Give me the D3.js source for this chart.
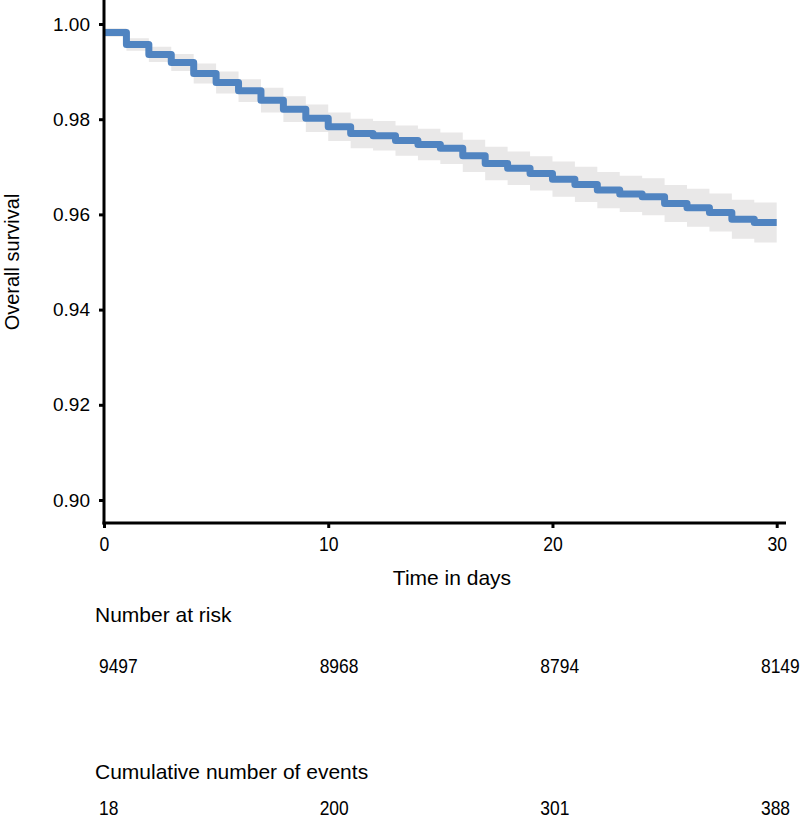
<!DOCTYPE html>
<html><head><meta charset="utf-8">
<script src="https://cdn.jsdelivr.net/npm/d3@7"></script>
<style>body{margin:0;background:#fff} svg{display:block}</style>
</head><body>
<svg id="c" width="800" height="819"></svg>
<script>
// ---- data ----
const times = [0,1,2,3,4,5,6,7,8,9,10,11,12,13,14,15,16,17,18,19,20,21,22,23,24,25,26,27,28,29,30];
const survival = [0.9982,0.9957,0.9936,0.9919,0.9896,0.9877,0.9860,0.9840,0.9821,0.9802,
                  0.9784,0.9770,0.9765,0.9755,0.9747,0.9739,0.9723,0.9707,0.9697,0.9686,
                  0.9674,0.9663,0.9651,0.9643,0.9637,0.9623,0.9614,0.9604,0.9590,0.9583,0.9583];
const lower = [0.9973,0.9944,0.9920,0.9901,0.9875,0.9854,0.9836,0.9814,0.9794,0.9773,
               0.9754,0.9739,0.9734,0.9723,0.9714,0.9706,0.9689,0.9672,0.9662,0.9650,
               0.9637,0.9626,0.9613,0.9605,0.9598,0.9584,0.9574,0.9564,0.9549,0.9541,0.9541];
const upper = [0.9991,0.9970,0.9952,0.9937,0.9917,0.9900,0.9884,0.9866,0.9848,0.9831,
               0.9814,0.9801,0.9796,0.9787,0.9780,0.9772,0.9757,0.9742,0.9732,0.9722,
               0.9711,0.9700,0.9689,0.9681,0.9676,0.9662,0.9654,0.9644,0.9631,0.9625,0.9625];
const yTicks = [0.90,0.92,0.94,0.96,0.98,1.00];
const xTicks = [0,10,20,30];
const tableTimes = [0,10,20,30];
const atRisk = [9497,8968,8794,8149];
const cumEvents = [18,200,301,388];

// ---- drawing ----
const svg = d3.select("#c");
const FONT = "Liberation Sans, Arial, Helvetica, sans-serif";
const x = d3.scaleLinear().domain([0,30]).range([104,776.7]);
const y = d3.scaleLinear().domain([0.90,1.00]).range([500,24]);
const xTable = d3.scaleLinear().domain([0,30]).range([99,761]);
const pts = times.map((t,i)=>({t, s:survival[i], lo:lower[i], hi:upper[i]}));

// CI band
svg.append("path").datum(pts)
  .attr("fill","#e9e8e8")
  .attr("d", d3.area().curve(d3.curveStepAfter).x(d=>x(d.t)).y0(d=>y(d.lo)).y1(d=>y(d.hi)));

// survival line
svg.append("path").datum(pts)
  .attr("fill","none").attr("stroke","#5084c1").attr("stroke-width",7)
  .attr("stroke-linejoin","round")
  .attr("d", d3.line().curve(d3.curveStepAfter).x(d=>x(d.t)).y(d=>y(d.s)));

// axes
const yAxis = svg.append("g").attr("transform","translate(104,0)")
  .call(d3.axisLeft(y).tickValues(yTicks).tickFormat(d3.format(".2f")).tickSize(5).tickPadding(9).tickSizeOuter(0));
const xAxis = svg.append("g").attr("transform","translate(0,523)")
  .call(d3.axisBottom(x).tickValues(xTicks).tickFormat(d3.format("d")).tickSize(5).tickPadding(8).tickSizeOuter(0));
[yAxis,xAxis].forEach(g=>{
  g.select(".domain").remove();
  g.selectAll(".tick line").attr("stroke","#000").attr("stroke-width",3);
});
yAxis.selectAll(".tick text").attr("font-family",FONT).attr("font-size",19).attr("fill","#000");
xAxis.selectAll(".tick text").attr("font-family",FONT).attr("font-size",20).attr("fill","#000")
  .attr("y",null).attr("dy",null)
  .attr("transform","translate(0,28) scale(0.88,1)");

svg.append("line").attr("x1",104).attr("x2",104).attr("y1",0).attr("y2",524.5)
  .attr("stroke","#000").attr("stroke-width",3);
svg.append("line").attr("x1",102.5).attr("x2",786).attr("y1",523).attr("y2",523)
  .attr("stroke","#000").attr("stroke-width",3);

// titles
svg.append("text").attr("transform","translate(19,262) rotate(-90)")
  .attr("text-anchor","middle").attr("font-family",FONT)
  .attr("font-size",20).text("Overall survival");
svg.append("text").attr("x",452).attr("y",585).attr("text-anchor","middle")
  .attr("font-family",FONT).attr("font-size",21)
  .text("Time in days");

// risk table
svg.append("text").attr("x",95).attr("y",622).attr("font-family",FONT).attr("font-size",21).text("Number at risk");
svg.selectAll("text.risk").data(tableTimes).join("text").attr("class","risk")
  .attr("transform",d=>`translate(${xTable(d)},673) scale(0.83,1)`)
  .attr("font-family",FONT).attr("font-size",21)
  .text((d,i)=>atRisk[i]);
svg.append("text").attr("x",95).attr("y",779).attr("font-family",FONT).attr("font-size",21).text("Cumulative number of events");
svg.selectAll("text.ev").data(tableTimes).join("text").attr("class","ev")
  .attr("transform",d=>`translate(${xTable(d)},815) scale(0.83,1)`)
  .attr("font-family",FONT).attr("font-size",21)
  .text((d,i)=>cumEvents[i]);
</script>
</body></html>
